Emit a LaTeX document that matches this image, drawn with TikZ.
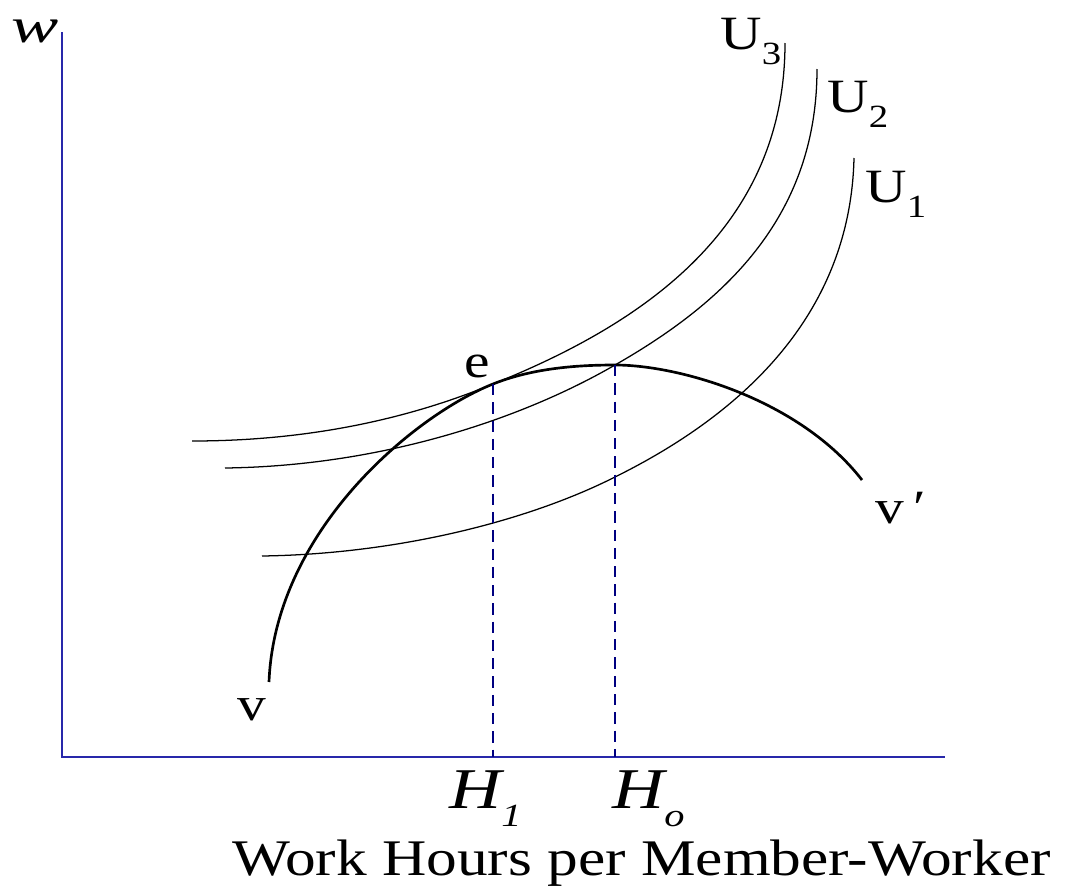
\documentclass[tikz,border=0pt]{standalone}
\usepackage{fontspec}
\setmainfont{Liberation Serif}
\usetikzlibrary{positioning, calc}
\definecolor{axblue}{RGB}{40,40,170}
\definecolor{dnavy}{RGB}{0,0,128}
\newcommand{\lowix}[2][-0.32em]{\raisebox{#1}{\fontsize{23}{25}\selectfont #2}}
\tikzset{
  ax/.style = {draw=axblue, line width=1.1pt},
  ic/.style = {draw=black, line width=0.9pt},
  vc/.style = {draw=black, line width=1.9pt},
  dl/.style = {draw=dnavy, line width=1.8pt, dash pattern=on 8pt off 5pt},
  lb/.style = {font=\fontsize{34}{40}\selectfont, inner sep=0pt,
    anchor=base west, xscale=1.2},
  lbi/.style = {font=\fontsize{41}{48}\selectfont\itshape, inner sep=0pt,
    anchor=base west, xscale=1.25},
  ttl/.style = {font=\fontsize{36.5}{42}\selectfont, inner sep=0pt,
    anchor=base west, xscale=1.195}
}

\begin{document}
\begin{tikzpicture}[x=0.025cm, y=-0.025cm]
  \useasboundingbox (0,0) rectangle (1067,888);
  % axes
  \coordinate (o) at (62,757);
  \coordinate (yt) at (62,32);
  \coordinate (xr) at (945,757);
  \draw [ax] (yt) -- (o) -- (xr);
  % tangency point and peak of vv'
  \coordinate (e) at (493,384);
  \coordinate (pk) at (615,365);
  % indifference curves
  \draw [ic] (192,441) .. controls (330,441) and (430,410) .. (e)
    .. controls (640,325) and (785,230) .. (785,43);
  \draw [ic] (225,468) .. controls (380,466) and (520,420) .. (pk)
    .. controls (720,305) and (817,220) .. (817,69);
  \draw [ic] (262,556) .. controls (400,554) and (530,520) .. (615,477)
    .. controls (720,425) and (850,330) .. (854,158);
  % curve vv'
  \draw [vc] (269,682) .. controls (275,530) and (415,415) .. (e)
    .. controls (532,368.5) and (575,365) .. (pk)
    .. controls (680,365) and (800,400) .. (862,480);
  % dashed drops
  \draw [dl] (e) -- (e |- o);
  \draw [dl] (pk) -- (pk |- o);
  % labels
  \node [lbi, font=\fontsize{35}{40}\selectfont\itshape, xscale=1.15] (lw) at (11,42) {w};
  \node [lb] (lu3) at (720,49) {U\lowix{3}};
  \node [lb] (lu2) at (827,112) {U\lowix{2}};
  \node [lb] (lu1) at (865,202) {U\lowix{1}};
  \node [lb] (le) at (464,377) {e};
  \node [lb] (lv) at (237,720) {v};
  \node [lb] (lvp) at (875,523) {v\,′};
  \node [lbi] (lh1) at (449,808) {H\lowix{\itshape 1}};
  \node [lbi] (lho) at (612,808) {H\lowix{\itshape o}};
  \node [ttl] (ttl) at (232,875) {Work Hours per Member-Worker};
\end{tikzpicture}
\end{document}
